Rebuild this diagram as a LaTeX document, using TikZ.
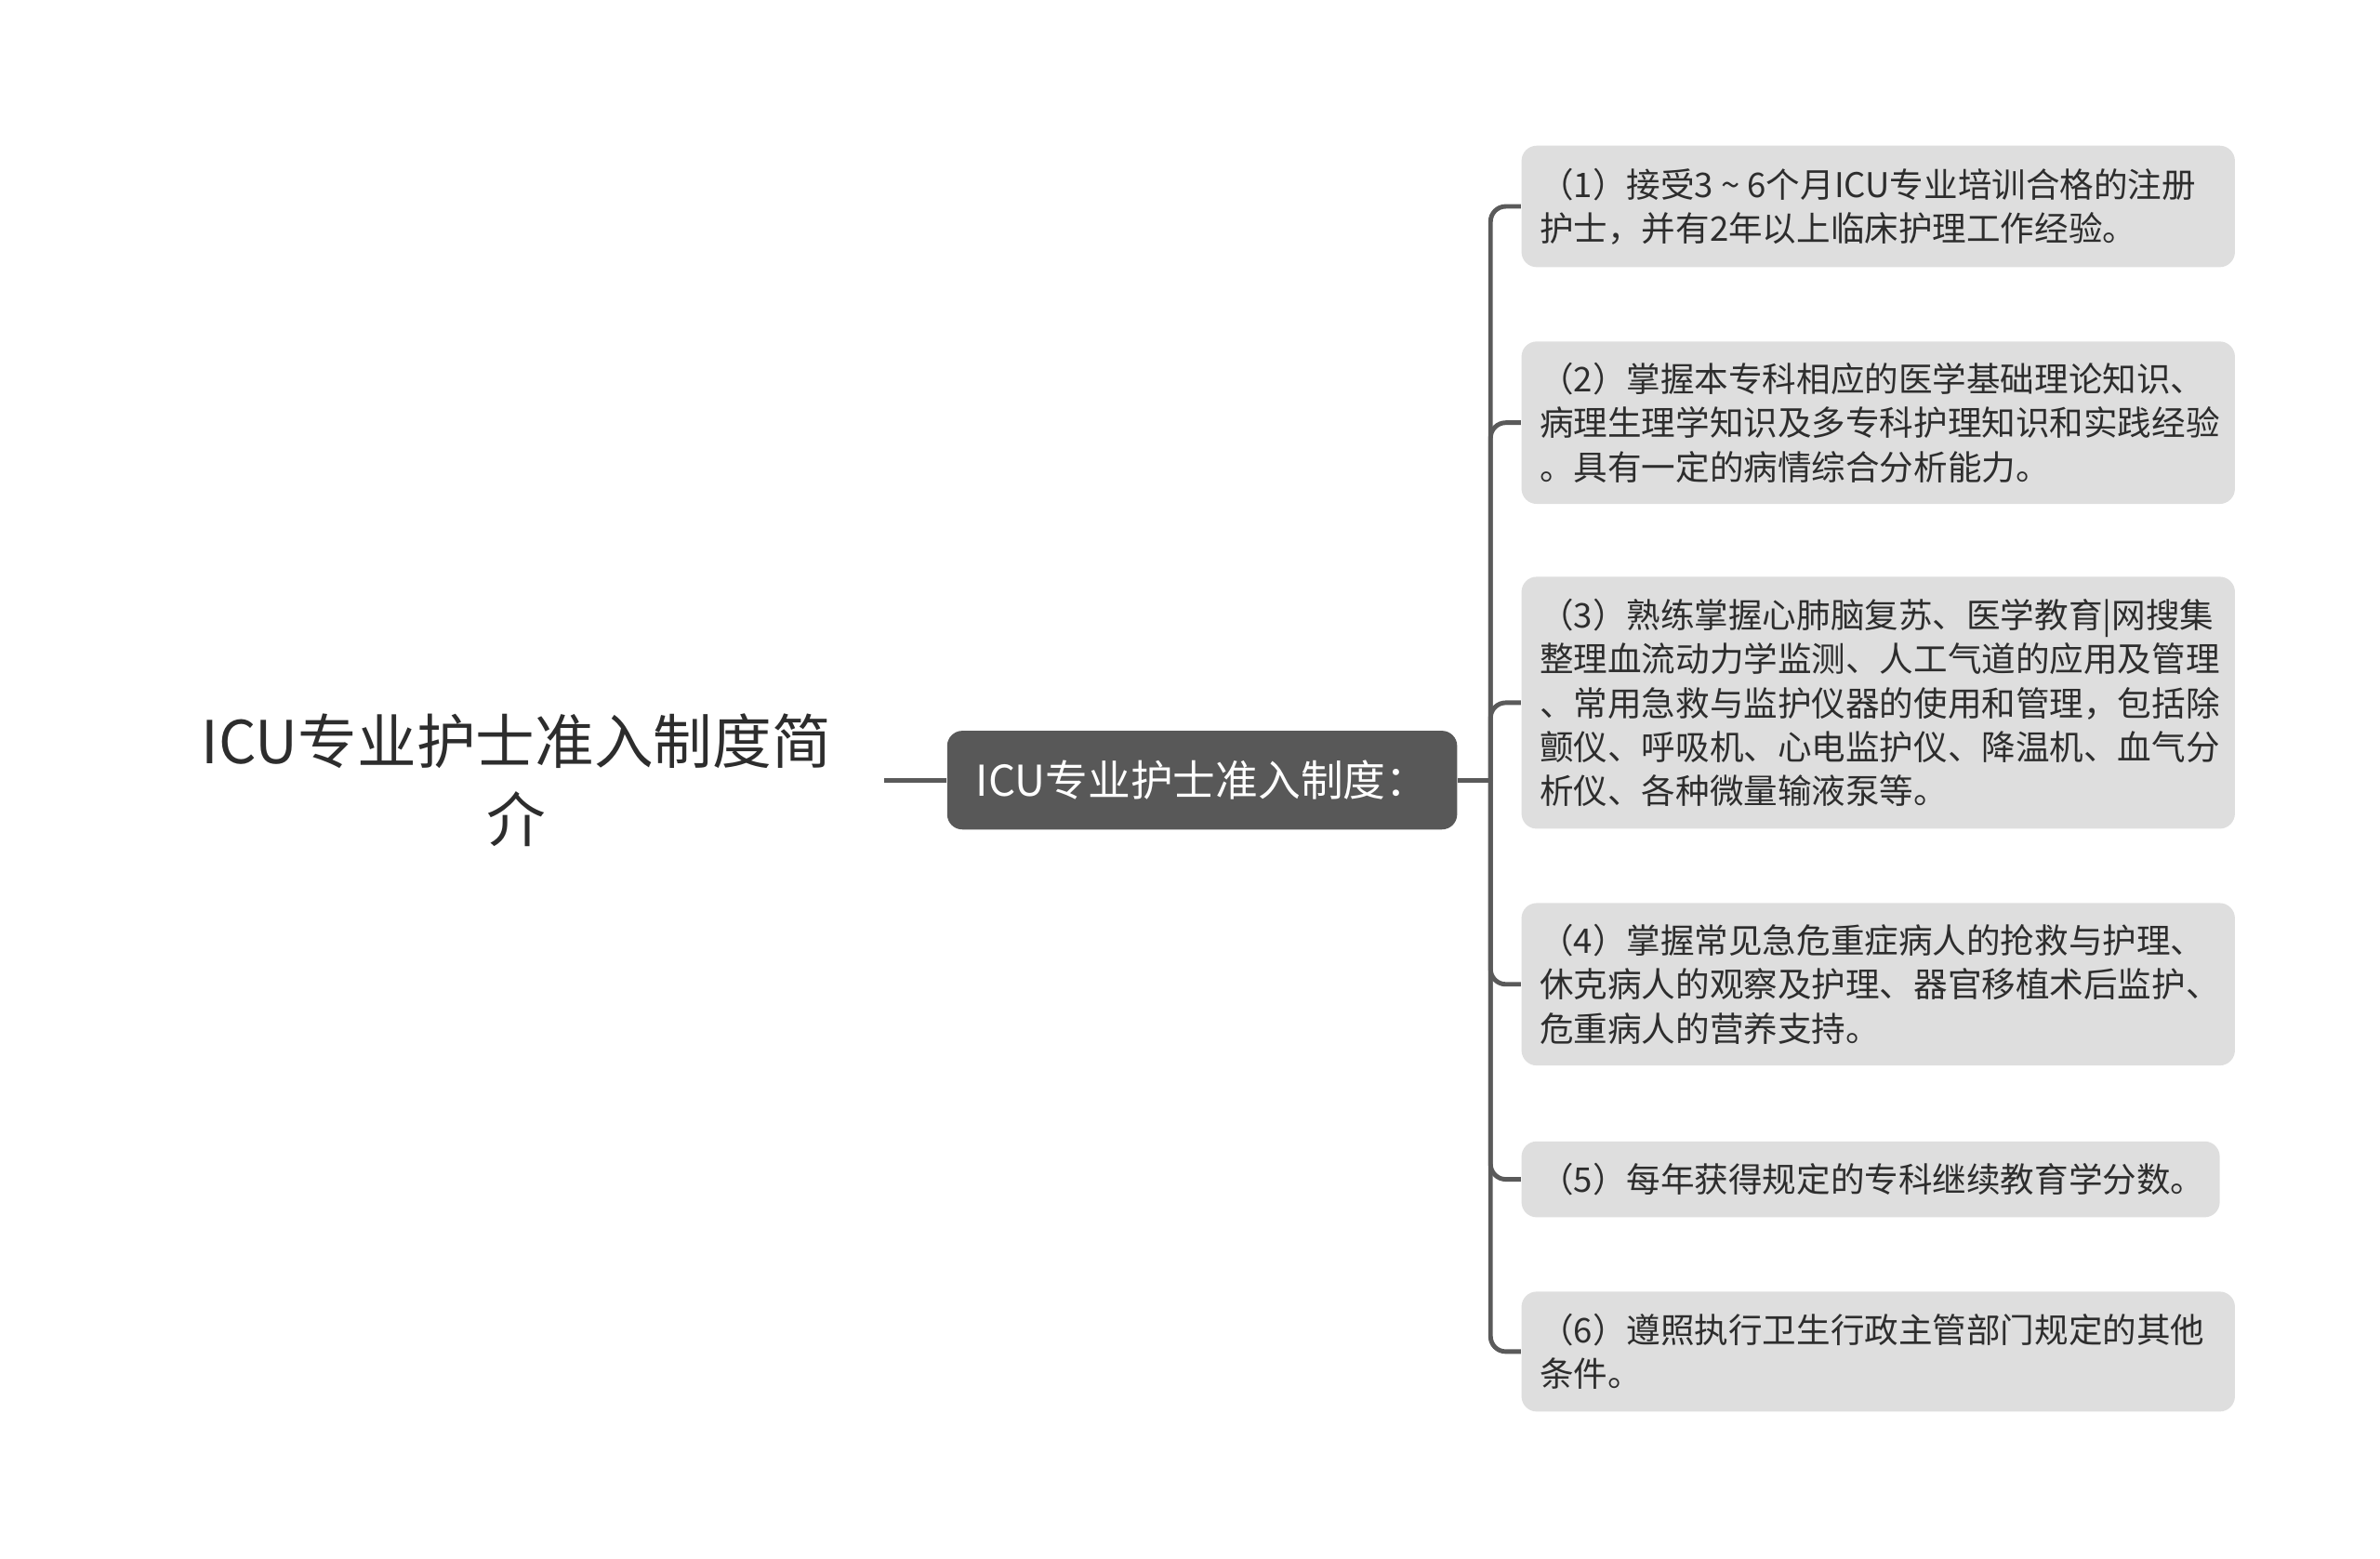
\documentclass[tikz,border=0pt]{standalone}
\usepackage{fontspec}
\newfontfamily\cjk{Noto Sans CJK SC}
\setlength{\parindent}{0pt}
\definecolor{boxgray}{RGB}{222,222,222}
\definecolor{centergray}{RGB}{88,88,88}
\definecolor{linegray}{RGB}{90,90,90}
\definecolor{textdark}{RGB}{45,45,45}
\newcommand{\wavesep}{\makebox[11.2pt][c]{\textasciitilde}}
\tikzset{
  childbox/.style={fill=boxgray, rounded corners=5pt, text width=223pt, inner xsep=6pt, inner ysep=0pt,
    align=left, font=\cjk\fontsize{11.2}{14.5}\selectfont, text=textdark, anchor=west},
  centerbox/.style={fill=centergray, rounded corners=5pt, minimum width=168pt, minimum height=32.5pt,
    inner sep=0pt, font=\cjk\fontsize{14}{17}\selectfont, text=white},
  titlebox/.style={minimum width=242pt, inner sep=0pt, align=center,
    font=\cjk\fontsize{19.5}{26}\selectfont, text=textdark},
  conn/.style={draw=linegray, line width=1.5pt, rounded corners=5pt}
}
\begin{document}
\begin{tikzpicture}[x=0.5pt, y=-0.5pt]
\useasboundingbox (0,0) rectangle (1568,1027);
\node[titlebox] (title) at (340,514) {ICU专业护士准入制度简\\介};
\node[centerbox] (center) at (792,514) {ICU专业护士准入制度：};
\coordinate (bus) at (982,514);
\node[childbox, minimum height=40pt] (c1) at (1002,136) {（1）接受3\wavesep 6个月ICU专业培训合格的注册\\护士，并有2年以上临床护理工作经验。};
\node[childbox, minimum height=53.5pt] (c2) at (1002,278.5) {（2）掌握本专科相应的医学基础理论知识、\\病理生理学知识及多专科护理知识和实践经验\\。具有一定的病情综合分析能力。};
\node[childbox, minimum height=83pt] (c3) at (1002,463) {（3）熟练掌握心肺脑复苏、医学教育|网搜集\\整理血流动力学监测、人工气道的应用及管理\\、常用急救与监护仪器的使用和管理，包括除\\颤仪、呼吸机、心电监护仪、降温机、血气分\\析仪、各种微量输液泵等。};
\node[childbox, minimum height=53.5pt] (c4) at (1002,648.5) {（4）掌握常见急危重症病人的抢救与护理、\\休克病人的观察及护理、器官移植术后监护、\\危重病人的营养支持。};
\node[childbox, minimum height=25pt, text width=218pt] (c5) at (1002,777) {（5）每年获得规定的专科继续教育学分数。};
\node[childbox, minimum height=39.5pt] (c6) at (1002,890.5) {（6）遵照执行卫生行政主管部门规定的其他\\条件。};
\draw[conn] (title.east) -- (center.west);
\draw[conn] (center.east) -- (bus);
\foreach \c in {c1,c2,c3,c4,c5,c6} {
  \draw[conn] (bus) |- (\c.west);
}
\end{tikzpicture}
\end{document}
